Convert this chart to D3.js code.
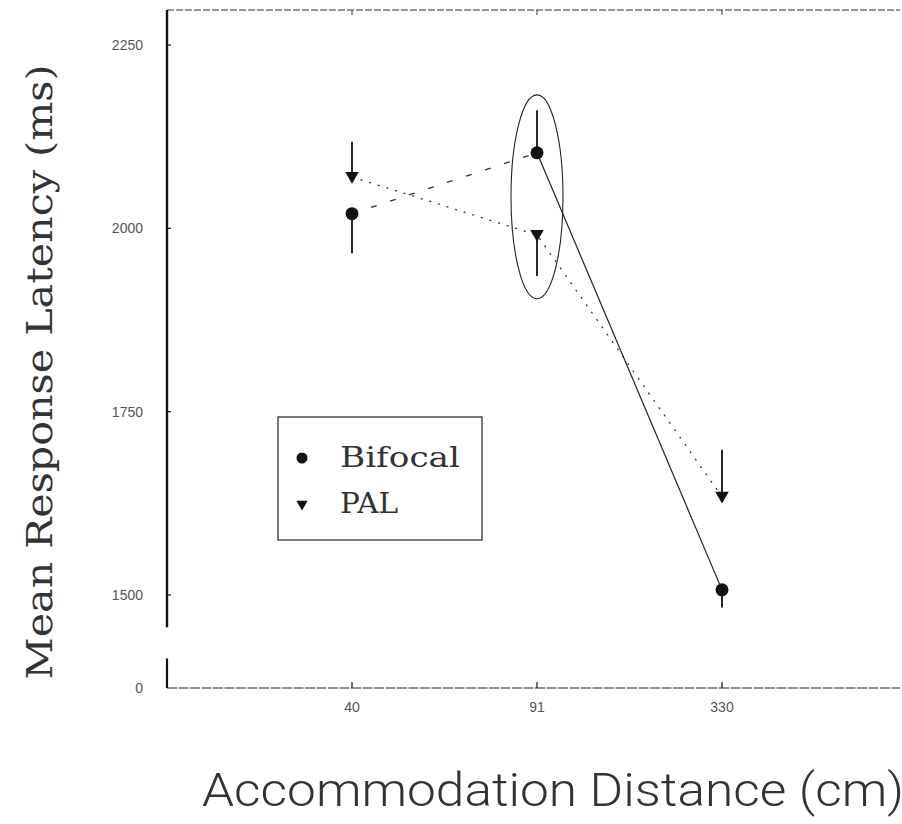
<!DOCTYPE html>
<html>
<head>
<meta charset="utf-8">
<script src="https://cdn.jsdelivr.net/npm/d3@7"></script>
<style>
  body { margin: 0; background: #fff; }
</style>
</head>
<body>
<div id="chart"></div>
<script>
var distances = ['40', '91', '330'];
var bifocalMeans = [2020, 2103, 1507];
var bifocalErr = [54, 58, 24];
var bifocalErrDir = [-1, 1, -1];
var palMeans = [2070, 1991, 1634];
var palErr = [48, 56, 64];
var palErrDir = [1, -1, 1];
var yTicks = [1500, 1750, 2000, 2250];
var yTickLabels = ['1500', '1750', '2000', '2250'];
var seriesNames = ['Bifocal', 'PAL'];

var width = 902, height = 824;
var svg = d3.select('#chart').append('svg')
  .attr('width', width)
  .attr('height', height);

var axisLeft = 167, axisRight = 900, axisTop = 10, axisBottom = 688;

var x = d3.scalePoint().domain(distances).range([axisLeft, 907]).padding(1);
var y = d3.scaleLinear().domain([1500, 2250]).range([595, 45]);
// lower piece of the broken axis, only holds the zero
var yLow = d3.scaleLinear().domain([0, 42]).range([axisBottom, 657]);

var ink = '#111';

// frame: top dotted rule, bottom axis
svg.append('line')
  .attr('x1', axisLeft).attr('x2', axisRight)
  .attr('y1', axisTop).attr('y2', axisTop)
  .attr('stroke', '#333').attr('stroke-width', 1)
  .attr('stroke-dasharray', '7,2');

svg.append('line')
  .attr('x1', axisLeft).attr('x2', axisRight)
  .attr('y1', axisBottom).attr('y2', axisBottom)
  .attr('stroke', '#222').attr('stroke-width', 1.2)
  .attr('stroke-dasharray', '10,1.5');

// left axis in two pieces
svg.append('line')
  .attr('x1', axisLeft).attr('x2', axisLeft)
  .attr('y1', axisTop).attr('y2', y(1456))
  .attr('stroke', ink).attr('stroke-width', 2.4);

svg.append('line')
  .attr('x1', axisLeft).attr('x2', axisLeft)
  .attr('y1', yLow(40)).attr('y2', axisBottom)
  .attr('stroke', ink).attr('stroke-width', 2.2);

svg.selectAll('.ytick')
  .data(yTicks)
  .enter()
  .append('line')
  .attr('class', 'ytick')
  .attr('x1', axisLeft).attr('x2', axisLeft + 4)
  .attr('y1', function(d) { return y(d); })
  .attr('y2', function(d) { return y(d); })
  .attr('stroke', ink).attr('stroke-width', 1.2);

svg.selectAll('.ylabel')
  .data(yTicks)
  .enter()
  .append('text')
  .attr('class', 'ylabel')
  .attr('x', 143)
  .attr('y', function(d) { return y(d) + 5; })
  .attr('text-anchor', 'end')
  .attr('font-family', 'Liberation Sans, Arial, sans-serif')
  .attr('font-size', '14px')
  .attr('fill', '#555')
  .text(function(d, i) { return yTickLabels[i]; });

svg.append('text')
  .attr('x', 143)
  .attr('y', yLow(0) + 5)
  .attr('text-anchor', 'end')
  .attr('font-family', 'Liberation Sans, Arial, sans-serif')
  .attr('font-size', '14px')
  .attr('fill', '#555')
  .text('0');

// x ticks (bottom and top)
svg.selectAll('.xtick')
  .data(distances)
  .enter()
  .append('line')
  .attr('class', 'xtick')
  .attr('x1', function(d) { return x(d); })
  .attr('x2', function(d) { return x(d); })
  .attr('y1', axisBottom).attr('y2', axisBottom - 6)
  .attr('stroke', ink).attr('stroke-width', 1.2);

svg.selectAll('.xtick-top')
  .data(distances)
  .enter()
  .append('line')
  .attr('class', 'xtick-top')
  .attr('x1', function(d) { return x(d); })
  .attr('x2', function(d) { return x(d); })
  .attr('y1', axisTop).attr('y2', axisTop + 5)
  .attr('stroke', '#333').attr('stroke-width', 1);

svg.selectAll('.xlabel')
  .data(distances)
  .enter()
  .append('text')
  .attr('class', 'xlabel')
  .attr('x', function(d) { return x(d); })
  .attr('y', 712)
  .attr('text-anchor', 'middle')
  .attr('font-family', 'Liberation Sans, Arial, sans-serif')
  .attr('font-size', '14px')
  .attr('fill', '#555')
  .text(function(d) { return d; });

// axis titles
svg.append('text')
  .attr('transform', 'translate(52,372) rotate(-90)')
  .attr('text-anchor', 'middle')
  .attr('font-family', 'DejaVu Serif, serif')
  .attr('font-size', '35px')
  .attr('fill', '#333')
  .attr('textLength', 615)
  .attr('lengthAdjust', 'spacingAndGlyphs')
  .text('Mean Response Latency (ms)');

svg.append('text')
  .attr('x', 202)
  .attr('y', 806)
  .attr('font-family', 'Roboto, Liberation Sans, sans-serif')
  .attr('font-weight', 300)
  .attr('font-size', '46px')
  .attr('fill', '#333')
  .attr('textLength', 702)
  .attr('lengthAdjust', 'spacingAndGlyphs')
  .text('Accommodation Distance (cm)');

// build point records
var bifocal = distances.map(function(d, i) {
  return { dist: d, mean: bifocalMeans[i], err: bifocalErr[i], dir: bifocalErrDir[i] };
});
var pal = distances.map(function(d, i) {
  return { dist: d, mean: palMeans[i], err: palErr[i], dir: palErrDir[i] };
});

var line = d3.line()
  .x(function(d) { return x(d.dist); })
  .y(function(d) { return y(d.mean); });

// highlight ellipse round the middle distance
var ellTop = 2182, ellBottom = 1904;
svg.append('ellipse')
  .attr('cx', x(distances[1]))
  .attr('cy', (y(ellTop) + y(ellBottom)) / 2)
  .attr('rx', 26)
  .attr('ry', (y(ellBottom) - y(ellTop)) / 2)
  .attr('fill', 'none')
  .attr('stroke', '#222')
  .attr('stroke-width', 1.1);

// series lines
svg.append('path')
  .datum(pal)
  .attr('fill', 'none')
  .attr('stroke', '#333')
  .attr('stroke-width', 1.3)
  .attr('stroke-dasharray', '2,7')
  .attr('d', line);

svg.append('path')
  .datum(bifocal.slice(0, 2))
  .attr('fill', 'none')
  .attr('stroke', '#333')
  .attr('stroke-width', 1.3)
  .attr('stroke-dasharray', '6,14')
  .attr('d', line);

svg.append('path')
  .datum(bifocal.slice(1))
  .attr('fill', 'none')
  .attr('stroke', '#222')
  .attr('stroke-width', 1.2)
  .attr('d', line);

// error bars
function errorBars(data, cls) {
  svg.selectAll('.' + cls)
    .data(data)
    .enter()
    .append('line')
    .attr('class', cls)
    .attr('x1', function(d) { return x(d.dist); })
    .attr('x2', function(d) { return x(d.dist); })
    .attr('y1', function(d) { return y(d.mean); })
    .attr('y2', function(d) { return y(d.mean + d.dir * d.err); })
    .attr('stroke', ink)
    .attr('stroke-width', 1.8);
}
errorBars(bifocal, 'err-bif');
errorBars(pal, 'err-pal');

var triangle = d3.symbol().type(d3.symbolTriangle).size(80);

svg.selectAll('.pt-bif')
  .data(bifocal)
  .enter()
  .append('circle')
  .attr('class', 'pt-bif')
  .attr('cx', function(d) { return x(d.dist); })
  .attr('cy', function(d) { return y(d.mean); })
  .attr('r', 6.5)
  .attr('fill', ink);

svg.selectAll('.pt-pal')
  .data(pal)
  .enter()
  .append('path')
  .attr('class', 'pt-pal')
  .attr('d', triangle)
  .attr('transform', function(d) {
    return 'translate(' + x(d.dist) + ',' + (y(d.mean) - 1) + ') rotate(180)';
  })
  .attr('fill', ink);

// legend
var legend = svg.append('g').attr('transform', 'translate(278,417)');
legend.append('rect')
  .attr('width', 204)
  .attr('height', 123)
  .attr('fill', '#fff')
  .attr('stroke', '#222')
  .attr('stroke-width', 1.2);

legend.append('circle')
  .attr('cx', 24).attr('cy', 41).attr('r', 5.5)
  .attr('fill', ink);
legend.append('path')
  .attr('d', d3.symbol().type(d3.symbolTriangle).size(55))
  .attr('transform', 'translate(24,87) rotate(180)')
  .attr('fill', ink);

legend.selectAll('.leg-text')
  .data(seriesNames)
  .enter()
  .append('text')
  .attr('class', 'leg-text')
  .attr('x', 62)
  .attr('y', function(d, i) { return 50 + i * 46; })
  .attr('font-family', 'DejaVu Serif, serif')
  .attr('font-size', '27px')
  .attr('fill', '#333')
  .attr('textLength', function(d, i) { return i === 0 ? 120 : 58; })
  .attr('lengthAdjust', 'spacingAndGlyphs')
  .text(function(d) { return d; });
</script>
</body>
</html>
